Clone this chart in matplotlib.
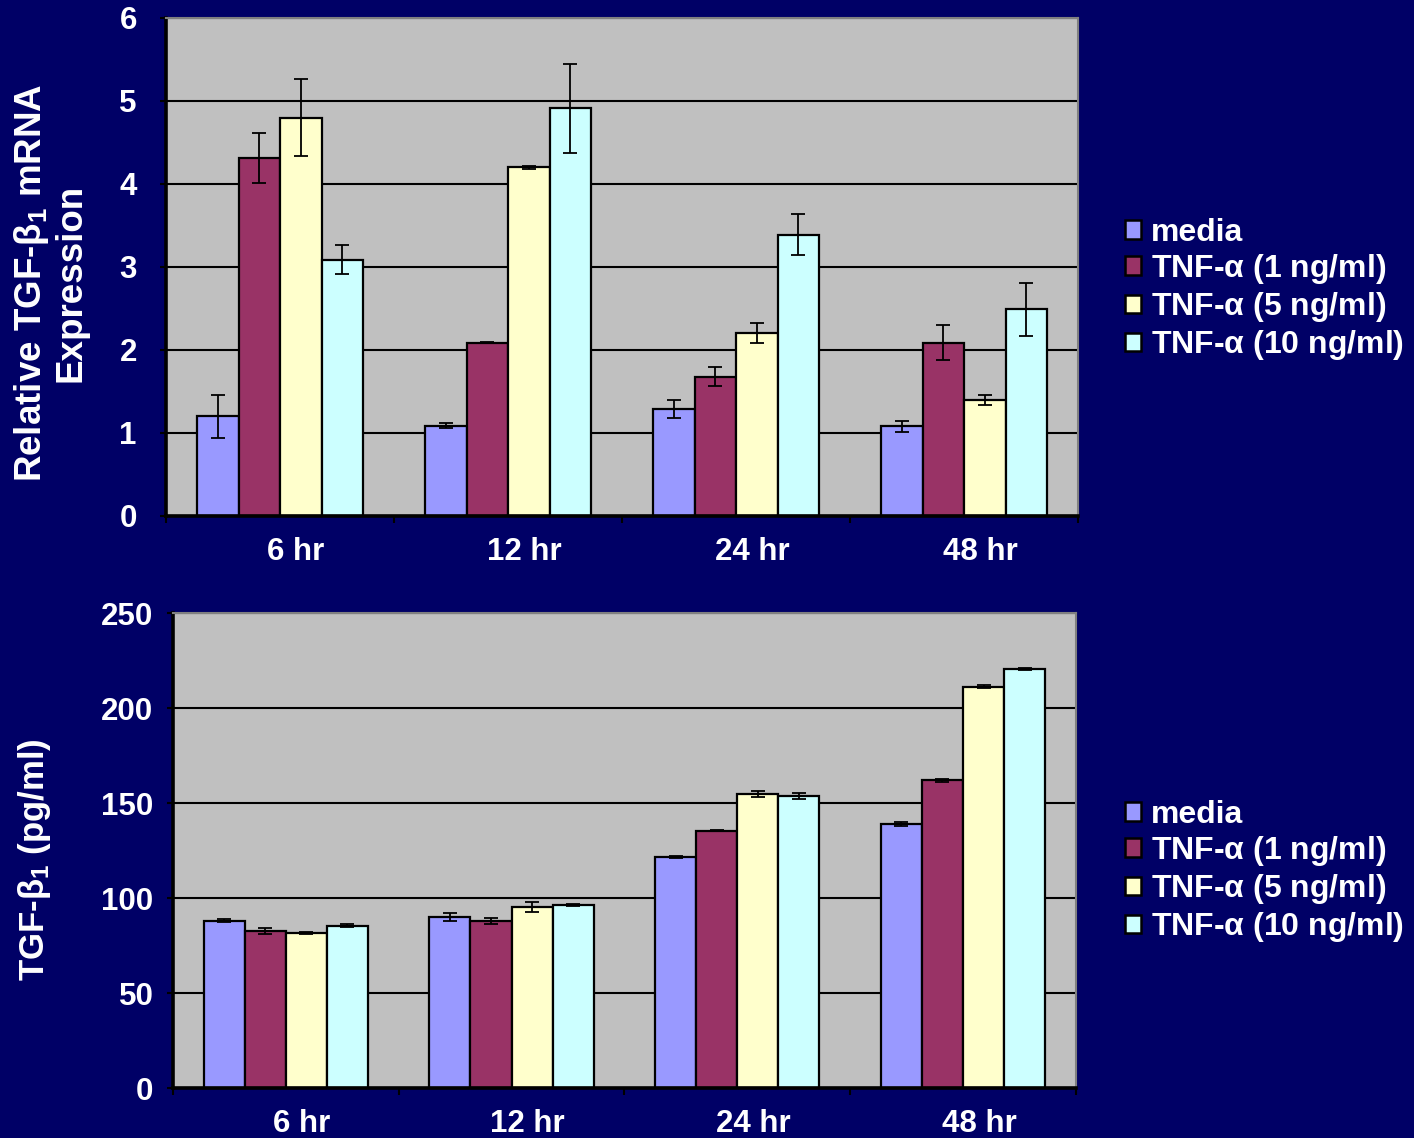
import numpy as np
import matplotlib
matplotlib.use("Agg")
import matplotlib.pyplot as plt
import matplotlib.transforms as mtransforms
from matplotlib.patches import Patch

plt.rcParams['font.family'] = ['Liberation Sans', 'DejaVu Sans']
plt.rcParams['font.weight'] = 'bold'
plt.rcParams['mathtext.fontset'] = 'custom'
plt.rcParams['mathtext.rm'] = 'Liberation Sans'
plt.rcParams['mathtext.it'] = 'Liberation Sans:italic'
plt.rcParams['mathtext.bf'] = 'Liberation Sans:bold'

# ---- data ----
timepoints = ["6 hr", "12 hr", "24 hr", "48 hr"]
treatments = ["media",
              r"TNF-$\mathrm{\alpha}$ (1 ng/ml)",
              r"TNF-$\mathrm{\alpha}$ (5 ng/ml)",
              r"TNF-$\mathrm{\alpha}$ (10 ng/ml)"]

# relative TGF-beta1 mRNA expression (one list per treatment, over timepoints)
mrna_media = [1.20, 1.09, 1.29, 1.08]
mrna_tnf1 = [4.31, 2.09, 1.68, 2.09]
mrna_tnf5 = [4.80, 4.20, 2.20, 1.40]
mrna_tnf10 = [3.09, 4.91, 3.39, 2.49]
mrna_err_media = [0.26, 0.03, 0.11, 0.065]
mrna_err_tnf1 = [0.30, 0.005, 0.11, 0.21]
mrna_err_tnf5 = [0.46, 0.015, 0.12, 0.06]
mrna_err_tnf10 = [0.18, 0.54, 0.25, 0.32]

# secreted TGF-beta1 protein (pg/ml)
prot_media = [88.1, 90.0, 121.9, 139.1]
prot_tnf1 = [82.6, 88.1, 135.6, 162.1]
prot_tnf5 = [81.7, 95.4, 154.9, 211.4]
prot_tnf10 = [85.6, 96.5, 153.8, 220.7]
prot_err_media = [0.8, 2.2, 0.5, 0.9]
prot_err_tnf1 = [1.5, 1.5, 0.3, 0.9]
prot_err_tnf5 = [0.5, 2.8, 1.5, 0.9]
prot_err_tnf10 = [0.9, 0.5, 1.8, 0.5]

mrna_ticks = [0, 1, 2, 3, 4, 5, 6]
prot_ticks = [0, 50, 100, 150, 200, 250]

colors = ["#9999FF", "#993366", "#FFFFCC", "#CCFFFF"]
bg = "#000066"
panel = "#C0C0C0"

fig = plt.figure(figsize=(14.14, 11.38), dpi=100, facecolor=bg)


def draw_panel(ax, series, errors, yticks, ypad):
    x = np.arange(len(timepoints))
    w = 0.182
    for i, (vals, errs) in enumerate(zip(series, errors)):
        ax.bar(x + (i - 1.5) * w, vals, w, color=colors[i],
               edgecolor="black", linewidth=1.6, zorder=2)
        ax.errorbar(x + (i - 1.5) * w, vals, yerr=errs, fmt="none",
                    ecolor="black", elinewidth=1.3, capsize=5, capthick=1.3,
                    zorder=3)
    ax.set_facecolor(panel)
    ax.set_xlim(-0.5, len(timepoints) - 0.5)
    ax.set_ylim(yticks[0], yticks[-1])
    ax.set_yticks(yticks)
    ax.set_yticklabels([str(t) for t in yticks])
    ax.yaxis.grid(True, color="black", linewidth=1.5, zorder=0)
    ax.set_axisbelow(True)
    # category boundaries carry the tick marks, labels sit in between
    ax.set_xticks(np.arange(-0.5, len(timepoints)), labels=[""] * (len(timepoints) + 1))
    ax.set_xticks(x, labels=timepoints, minor=True)
    ax.tick_params(axis="x", which="major", direction="out", length=5,
                   width=1.5, color="black")
    ax.tick_params(axis="x", which="minor", length=0, pad=15,
                   labelsize=22.5, labelcolor="white")
    shift = mtransforms.ScaledTranslation(0.16, 0, fig.dpi_scale_trans)
    for lab in ax.get_xticklabels(minor=True):
        lab.set_transform(lab.get_transform() + shift)
    ax.tick_params(axis="y", direction="out", length=4, width=1.5,
                   color="black", pad=ypad, labelsize=22.5, labelcolor="white")
    for s in ("left", "bottom"):
        ax.spines[s].set_color("black")
        ax.spines[s].set_linewidth(2.6)
    for s in ("top", "right"):
        ax.spines[s].set_color("#808080")
        ax.spines[s].set_linewidth(1.5)


ax1 = fig.add_axes([0.1174, 0.5466, 0.6450, 0.4376])
draw_panel(ax1,
           [mrna_media, mrna_tnf1, mrna_tnf5, mrna_tnf10],
           [mrna_err_media, mrna_err_tnf1, mrna_err_tnf5, mrna_err_tnf10],
           mrna_ticks, ypad=17)

ax2 = fig.add_axes([0.1223, 0.0437, 0.6386, 0.4174])
draw_panel(ax2,
           [prot_media, prot_tnf1, prot_tnf5, prot_tnf10],
           [prot_err_media, prot_err_tnf1, prot_err_tnf5, prot_err_tnf10],
           prot_ticks, ypad=10)

fig.text(50 / 1414, 1 - 283 / 1138,
         "Relative TGF-$\\mathrm{\\beta}_1$ mRNA\nExpression",
         rotation=90, ha="center", va="center", multialignment="center",
         color="white", fontsize=26.5, fontweight="bold", linespacing=1.1)
fig.text(35 / 1414, 1 - 860 / 1138,
         "TGF-$\\mathrm{\\beta}_1$ (pg/ml)",
         rotation=90, ha="center", va="center",
         color="white", fontsize=25, fontweight="bold")

handles = [Patch(facecolor=c, edgecolor="black", linewidth=1.8) for c in colors]
for ycen in (1 - 290 / 1138, 1 - 872 / 1138):
    fig.legend(handles, treatments, loc="center left",
               bbox_to_anchor=(1125 / 1414, ycen), frameon=False,
               labelcolor="white", handlelength=0.5,
               handleheight=0.5, handletextpad=0.3, labelspacing=0.13,
               borderpad=0, borderaxespad=0, prop={"weight": "bold", "size": 23})

fig.savefig("out.png", dpi=100, facecolor=bg)
